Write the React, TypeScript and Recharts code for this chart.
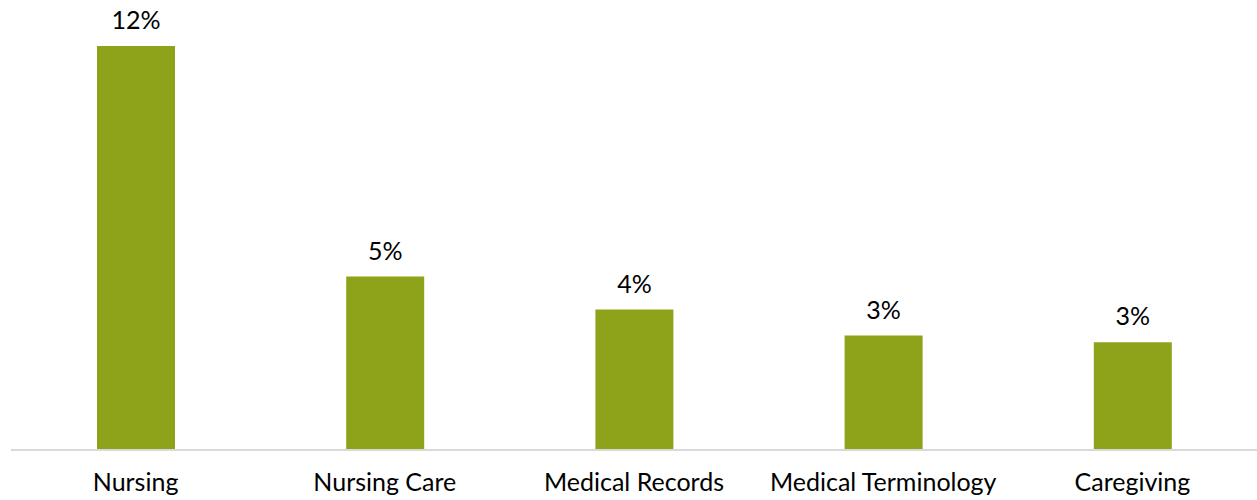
import { BarChart, Bar, XAxis, YAxis, LabelList } from "recharts";

const categories = [
  "Nursing",
  "Nursing Care",
  "Medical Records",
  "Medical Terminology",
  "Caregiving",
];
const shares = [12.0, 5.15, 4.17, 3.4, 3.2];

const data = categories.map((name, i) => ({ name, share: shares[i] }));

const FONT = "Lato, 'DejaVu Sans', sans-serif";

const formatPct = (v: any) => `${Math.round(Number(v))}%`;

export default function App() {
  return (
    <div style={{ position: "absolute", left: 0, top: 0, background: "#fff" }}>
      <BarChart
        width={1257}
        height={500}
        data={data}
        margin={{ top: 46, right: 0, left: 11, bottom: 0 }}
        barCategoryGap={0}
      >
        <XAxis
          dataKey="name"
          height={50}
          axisLine={{ stroke: "#d9d9d9", strokeWidth: 2 }}
          tickLine={false}
          tickMargin={17}
          interval={0}
          tick={{ fontSize: 25, fill: "#000", fontFamily: FONT }}
        />
        <YAxis hide domain={[0, 12]} />
        <Bar
          dataKey="share"
          fill="#8FA31A"
          barSize={78}
          isAnimationActive={false}
        >
          <LabelList
            dataKey="share"
            position="top"
            offset={17}
            formatter={formatPct}
            style={{ fontSize: 25, fill: "#000", fontFamily: FONT }}
          />
        </Bar>
      </BarChart>
    </div>
  );
}
